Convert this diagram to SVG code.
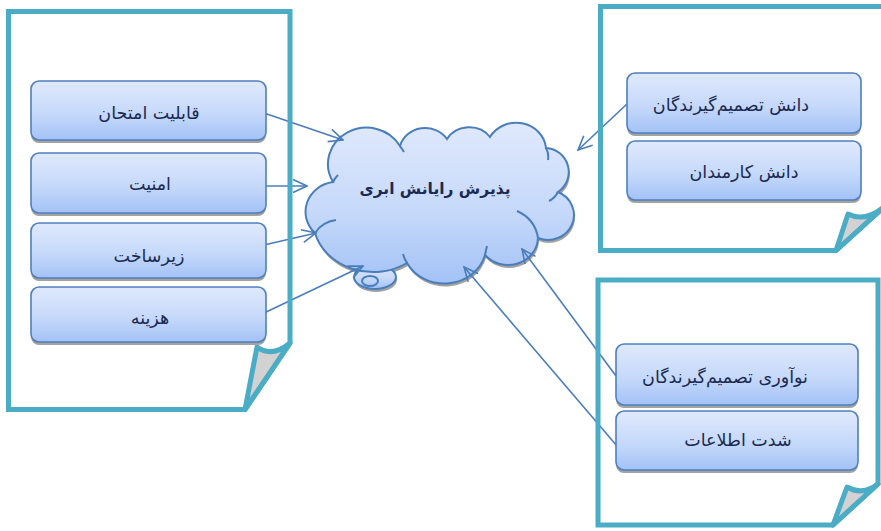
<svg xmlns="http://www.w3.org/2000/svg" width="881" height="531" viewBox="0 0 881 531">
<defs>
<linearGradient id="gb" x1="0" y1="0" x2="0" y2="1">
<stop offset="0" stop-color="#dfe9fc"/>
<stop offset="0.55" stop-color="#c6d9fa"/>
<stop offset="1" stop-color="#a3c2f6"/>
</linearGradient>
<marker id="ah" viewBox="0 0 16 16" refX="15" refY="8" markerWidth="16" markerHeight="16" markerUnits="userSpaceOnUse" orient="auto">
<path d="M1,1.5 L15,8 L1,14.5" fill="none" stroke="#4a7ebb" stroke-width="1.6"/>
</marker>
</defs>
<style>
.box{fill:url(#gb);stroke:#4f7fbf;stroke-width:1.6}
.sh{fill:#a2a2a2}
.pn{fill:none;stroke:#4bacc6;stroke-width:5;stroke-linejoin:miter}
.fold{fill:#d2d2d2;stroke:#4bacc6;stroke-width:5;stroke-linejoin:round}
.cn{fill:none;stroke:#4a7ebb;stroke-width:1.6;marker-end:url(#ah)}
.t{font-family:"DejaVu Sans",sans-serif;font-size:17.5px;fill:#1b2a52;text-anchor:middle}
.ct{font-family:"DejaVu Sans",sans-serif;font-size:15.5px;font-weight:bold;fill:#1b2a52;text-anchor:middle}
.cl{fill:url(#gb);stroke:#4a7ebb;stroke-width:2}
.in{fill:none;stroke:#4a7ebb;stroke-width:2}
</style>
<rect width="881" height="531" fill="#ffffff"/>

<g id="cloud">
<path class="sh" transform="translate(1,3)" d="M333,182 A36,34 0 0 1 400,146 A26,24 0 0 1 447,139 A25,22 0 0 1 490,137 A30,28 0 0 1 546,148 A24,24 0 0 1 558,192 A25,24 0 0 1 538,238 A30,28 0 0 1 485,255 A42,38 0 0 1 407,263 A60,52 0 0 1 315,233 A32,30 0 0 1 333,182 Z"/>
<ellipse cx="376" cy="280" rx="21" ry="12" class="sh"/>
<ellipse cx="375" cy="277" rx="21" ry="12" class="cl"/>
<path class="cl" d="M333,182 A36,34 0 0 1 400,146 A26,24 0 0 1 447,139 A25,22 0 0 1 490,137 A30,28 0 0 1 546,148 A24,24 0 0 1 558,192 A25,24 0 0 1 538,238 A30,28 0 0 1 485,255 A42,38 0 0 1 407,263 A60,52 0 0 1 315,233 A32,30 0 0 1 333,182 Z"/>
<ellipse cx="370" cy="281" rx="8" ry="5" fill="none" stroke="#4a7ebb" stroke-width="2"/>
<path class="in" d="M517,211 Q535,219 538,238 M485,255 Q486,250 487,246 M407,263 Q404,258 403,254 M315,233 Q322,222 336,220 M558,192 Q555,198 549,201 M546,148 Q549,153 548,160 M400,146 Q402,149 404,152 M333,182 Q335,178 338,175"/>
<text class="ct" x="435" y="194">پذیرش رایانش ابری</text>
</g>

<g id="connectors">
<path class="cn" d="M264,113 L343,140"/>
<path class="cn" d="M264,186 L307,186"/>
<path class="cn" d="M264,245 L316,233"/>
<path class="cn" d="M264,313 L363,266"/>
<path class="cn" d="M627,104 L578,150"/>
<path class="cn" d="M616,376 L522,249"/>
<path class="cn" d="M617,446 L464,267"/>
</g>

<g id="panel-left">
<path class="pn" d="M8.5,11.5 H290 V343 L245,409.5 H8.5 Z"/>
<path class="fold" d="M257,347 Q272,358 290,343 L245,409.5 Z"/>
</g>
<g id="panel-top-right">
<path class="pn" d="M600.5,6.5 H886 V205 L836,250.5 H600.5 Z"/>
<path class="fold" d="M848,214 Q866,223 886,205 L836,250.5 Z"/>
</g>
<g id="panel-bottom-right">
<path class="pn" d="M598,280 H878 V484 L833,525 H598 Z"/>
<path class="fold" d="M847,487 Q862,496 878,484 L833,525 Z"/>
</g>

<g id="n-exam">
<rect class="sh" x="31" y="84" width="235" height="59" rx="8"/>
<rect class="box" x="31" y="81" width="235" height="59" rx="8"/>
<text class="t" x="149" y="119">قابلیت امتحان</text>
</g>
<g id="n-security">
<rect class="sh" x="31" y="156" width="235" height="60" rx="8"/>
<rect class="box" x="31" y="153" width="235" height="60" rx="8"/>
<text class="t" x="150" y="190">امنیت</text>
</g>
<g id="n-infra">
<rect class="sh" x="31" y="226" width="235" height="55" rx="8"/>
<rect class="box" x="31" y="223" width="235" height="55" rx="8"/>
<text class="t" x="149" y="262">زیرساخت</text>
</g>
<g id="n-cost">
<rect class="sh" x="31" y="290" width="235" height="55" rx="8"/>
<rect class="box" x="31" y="287" width="235" height="55" rx="8"/>
<text class="t" x="150" y="324">هزینه</text>
</g>
<g id="n-dm-knowledge">
<rect class="sh" x="627" y="76" width="234" height="60" rx="8"/>
<rect class="box" x="627" y="73" width="234" height="60" rx="8"/>
<text class="t" x="731" y="111">دانش تصمیم‌گیرندگان</text>
</g>
<g id="n-staff-knowledge">
<rect class="sh" x="627" y="144" width="234" height="59" rx="8"/>
<rect class="box" x="627" y="141" width="234" height="59" rx="8"/>
<text class="t" x="744" y="178">دانش کارمندان</text>
</g>
<g id="n-dm-innovation">
<rect class="sh" x="616" y="347" width="242" height="61" rx="8"/>
<rect class="box" x="616" y="344" width="242" height="61" rx="8"/>
<text class="t" x="725" y="383">نوآوری تصمیم‌گیرندگان</text>
</g>
<g id="n-info-intensity">
<rect class="sh" x="616" y="414" width="242" height="59" rx="8"/>
<rect class="box" x="616" y="411" width="242" height="59" rx="8"/>
<text class="t" x="738" y="446">شدت اطلاعات</text>
</g>
</svg>
